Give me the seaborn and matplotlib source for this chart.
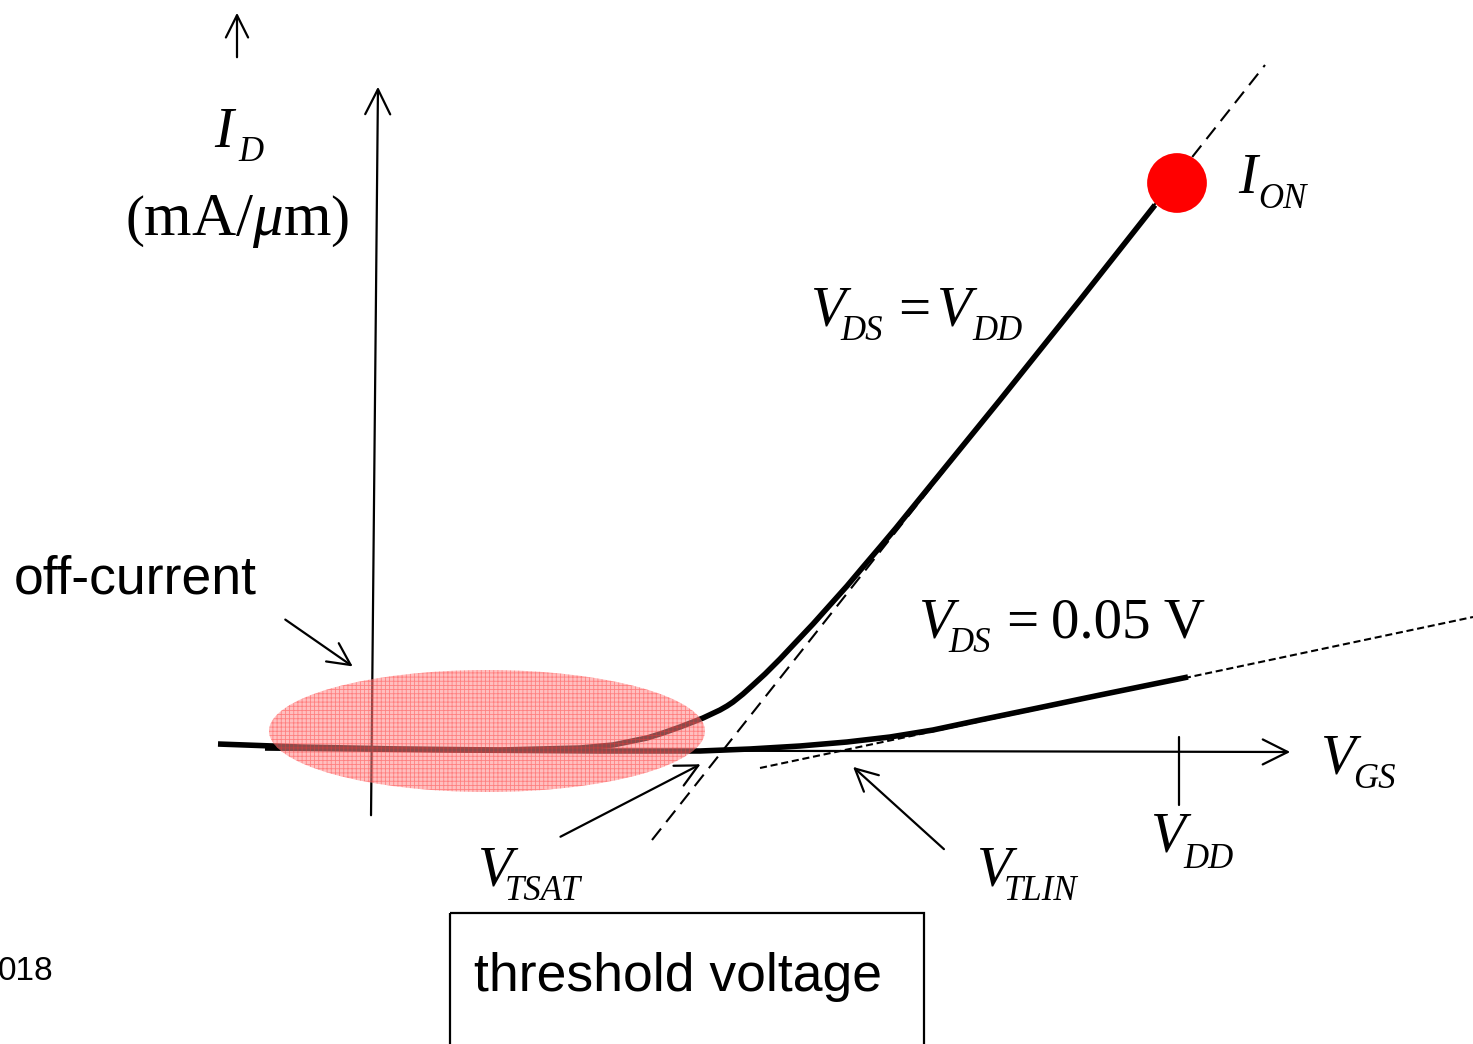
import numpy as np
import matplotlib
matplotlib.use("Agg")
import matplotlib.pyplot as plt
import seaborn as sns
from matplotlib.patches import Ellipse, Rectangle

# ---------------- data (schematic, in picture units) ----------------
sat_vgs = [218, 300, 400, 500, 580, 613, 647, 663, 680, 693, 703, 720, 727, 733, 743, 753,
           765, 780, 796, 813, 830, 847, 863, 880, 896, 913, 1000, 1080, 1155]
sat_id = [744, 747, 749, 750, 748, 745, 738, 733, 727, 722, 718, 710, 706, 702, 694, 685,
          674, 659, 642, 624, 605, 586, 567, 547, 528, 507, 400, 300, 205]

lin_vgs = [265, 450, 600, 700, 750, 800, 847, 890, 933, 980, 1033, 1100, 1188]
lin_id = [748, 750, 751, 751, 749, 746, 742, 737, 730, 720, 709, 695, 677]

sat_tangent_vgs = [652, 1265]
sat_tangent_id = [840, 65]

lin_tangent_vgs = [760, 1473]
lin_tangent_id = [768, 617]

ion_vgs = [1177]
ion_id = [183]

vdd_tick = 1179

# ---------------- style ----------------
sns.set_theme(style="white")
plt.rcParams["font.family"] = ["Liberation Sans", "DejaVu Sans"]
plt.rcParams["text.color"] = "black"
plt.rcParams["mathtext.fontset"] = "custom"
plt.rcParams["mathtext.rm"] = "Liberation Serif"
plt.rcParams["mathtext.it"] = "Liberation Serif:italic"
plt.rcParams["mathtext.bf"] = "Liberation Serif:bold"
plt.rcParams["hatch.linewidth"] = 0.6

fig = plt.figure(figsize=(14.73, 10.44), dpi=100)
ax = fig.add_axes([0, 0, 1, 1])
ax.set_xlim(0, 1473)
ax.set_ylim(1044, 0)
ax.axis("off")

# axes of the schematic
ax.annotate("", xy=(1293, 752), xytext=(372, 750),
            arrowprops=dict(arrowstyle="->", lw=1.6, color="black", mutation_scale=45))
ax.annotate("", xy=(378, 84), xytext=(371, 818),
            arrowprops=dict(arrowstyle="->", lw=1.6, color="black", mutation_scale=45))
ax.plot([vdd_tick, vdd_tick], [737, 805], color="black", lw=1.6)

# tangent lines
l1, = ax.plot(sat_tangent_vgs, sat_tangent_id, color="black", lw=1.5)
l1.set_dashes([7, 4])
l2, = ax.plot(lin_tangent_vgs, lin_tangent_id, color="black", lw=1.5)
l2.set_dashes([3.4, 1.8])

# curves
sns.lineplot(x=sat_vgs, y=sat_id, ax=ax, color="black", lw=4.0, sort=False, estimator=None)
sns.lineplot(x=lin_vgs, y=lin_id, ax=ax, color="black", lw=4.0, sort=False, estimator=None)
for ln in ax.get_lines()[-2:]:
    ln.set_solid_joinstyle("round")
    ln.set_solid_capstyle("butt")

# I_ON point
sns.scatterplot(x=ion_vgs, y=ion_id, ax=ax, s=1850, color="#ff0000", edgecolor="none", zorder=5)

# off-current region
ell = Ellipse((487, 731), 436, 122, facecolor=(1.0, 0.55, 0.55, 0.55),
              edgecolor=(1.0, 0.2, 0.2, 0.45), hatch="++++", lw=0, zorder=6)
ax.add_patch(ell)

# pointer arrows
arr = dict(arrowstyle="->", lw=1.6, color="black", mutation_scale=40)
ax.annotate("", xy=(355, 668), xytext=(283, 618), arrowprops=arr)
ax.annotate("", xy=(703, 763), xytext=(558, 838), arrowprops=arr)
ax.annotate("", xy=(851, 765), xytext=(946, 851), arrowprops=arr)
ax.annotate("", xy=(237, 10), xytext=(237, 60), arrowprops=arr)

# labels built from main symbol + subscript
MAIN = 41
SUB = 25
serif = "Liberation Serif"


def piece(x, y, s, size=MAIN, italic=True):
    ax.text(x, y, s, fontsize=size, family=serif, style="italic" if italic else "normal",
            ha="left", va="baseline")


def sym(x, y, main, sub, sub_dx, sub_dy=14):
    piece(x, y, main)
    piece(x + sub_dx, y + sub_dy, sub, size=SUB)


sym(214, 147, "I", "D", 24)
sym(1238, 193, "I", "ON", 20, 15)

sym(810, 326, "V", "DS", 30)
piece(898, 326, "=", italic=False)
sym(936, 326, "V", "DD", 36)

sym(918, 638, "V", "DS", 30)
piece(1006, 638, "=", italic=False)
piece(1051, 638, "0.05 V", italic=False)

sym(1320, 773, "V", "GS", 33, 15)
sym(1150, 852, "V", "DD", 33, 16)
sym(477, 885, "V", "TSAT", 28, 15)
sym(976, 885, "V", "TLIN", 28, 15)

ax.text(237, 222, r"$\left(\mathrm{mA}/\mu\mathrm{m}\right)$", fontsize=44, ha="center", va="center")

ax.text(135, 580, "off-current", fontsize=38.5, ha="center", va="center")
ax.text(678, 977, "threshold voltage", fontsize=38.5, ha="center", va="center")
ax.add_patch(Rectangle((450, 913), 474, 200, fill=False, edgecolor="black", lw=1.6))
ax.text(-2, 972, "018", fontsize=24, ha="left", va="center")

fig.savefig("out.png", dpi=100)
